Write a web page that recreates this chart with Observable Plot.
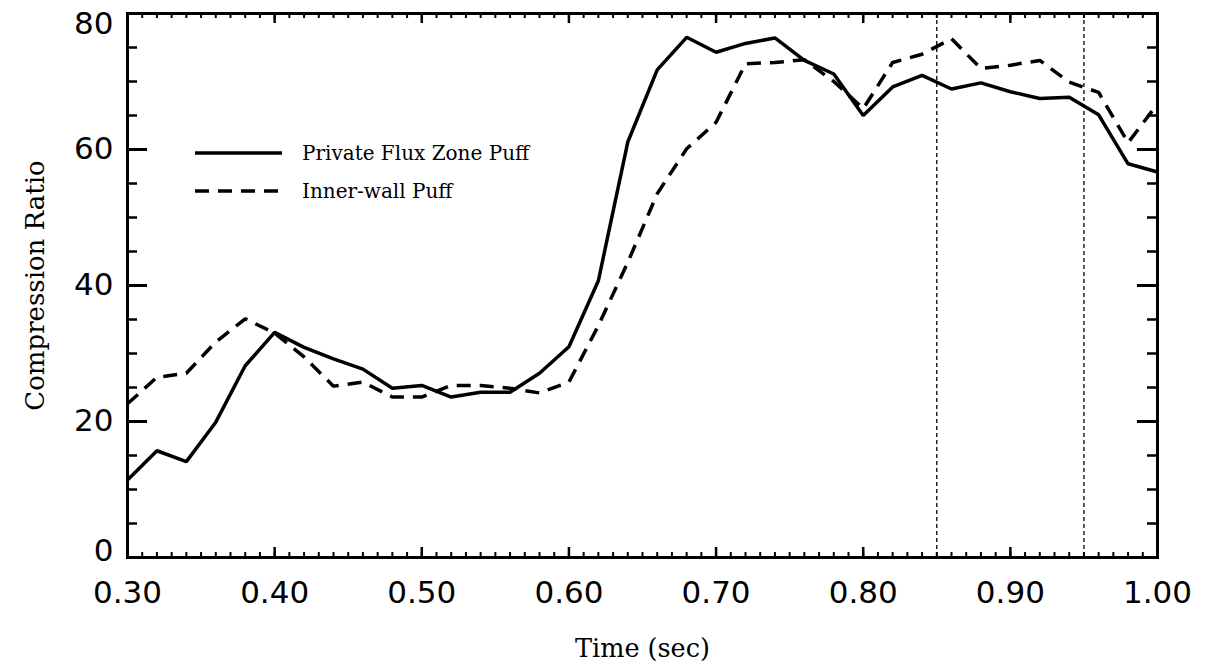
<!DOCTYPE html>
<html><head><meta charset="utf-8">
<script src="https://cdn.jsdelivr.net/npm/d3@7"></script>
<script src="https://cdn.jsdelivr.net/npm/@observablehq/plot@0.6"></script>
<style>
html,body{margin:0;padding:0;background:#fff;}
#wrap{position:relative;width:1207px;height:669px;}
#legend{position:absolute;left:0;top:0;pointer-events:none;}
</style></head><body><div id="wrap"></div>
<script>
// ---- data ----
const times = [0.30,0.32,0.34,0.36,0.38,0.40,0.42,0.44,0.46,0.48,0.50,0.52,0.54,0.56,0.58,0.60,0.62,0.64,0.66,0.68,0.70,0.72,0.74,0.76,0.78,0.80,0.82,0.84,0.86,0.88,0.90,0.92,0.94,0.96,0.98,1.00];
const privateFlux = [11.4,15.7,14.1,19.9,28.2,33.1,30.9,29.2,27.7,24.9,25.3,23.6,24.3,24.3,27.1,31.0,40.7,61.1,71.7,76.5,74.3,75.6,76.4,73.1,71.1,65.0,69.2,70.9,68.9,69.8,68.5,67.5,67.7,65.1,57.9,56.7];
const innerWall = [22.6,26.5,27.1,31.7,35.1,33.0,29.5,25.2,25.8,23.6,23.6,25.3,25.3,24.9,24.2,25.8,34.1,43.4,53.5,60.1,64.0,72.6,72.8,73.2,70.0,66.0,72.8,74.0,76.3,71.9,72.4,73.1,69.9,68.4,61.0,66.7];
const seriesNames = ["Private Flux Zone Puff","Inner-wall Puff"];
const markerTimes = [0.85,0.95];
const xTicks = [0.30,0.40,0.50,0.60,0.70,0.80,0.90,1.00];
const yTicks = [0,20,40,60,80];
const yTicksMid = [20,40,60];
const xMinor = d3.range(30,101).map(d=>d/100);
const yMinor = d3.range(0,81,5);
const xLabel = "Time (sec)";
const yLabel = "Compression Ratio";

// ---- layout ----
const W=1207,H=669,mL=127,mT=13,mR=50,mB=112;
const fw=W-mL-mR, fh=H-mT-mB;
const sans="DejaVu Sans", serif="DejaVu Serif";
const dash="14,9";
const tickFont=31;

const plot = Plot.plot({
  width:W,height:H,marginLeft:mL,marginTop:mT,marginRight:mR,marginBottom:mB,
  style:{background:"#fff",color:"#000"},
  x:{domain:[0.30,1.00]},
  y:{domain:[0,80]},
  marks:[
    Plot.ruleX(markerTimes,{stroke:"#000",strokeWidth:1.3,strokeDasharray:"4,3"}),
    Plot.line(innerWall,{x:times,y:d=>d,stroke:"#000",strokeWidth:3.5,strokeDasharray:dash,strokeLinejoin:"miter",strokeLinecap:"butt"}),
    Plot.line(privateFlux,{x:times,y:d=>d,stroke:"#000",strokeWidth:3.5,strokeLinejoin:"miter",strokeLinecap:"butt"}),
    // x ticks (inward, bottom & top)
    Plot.ruleX(xMinor,{stroke:"#000",strokeWidth:2,insetTop:fh-5}),
    Plot.ruleX(xMinor,{stroke:"#000",strokeWidth:2,insetBottom:fh-5}),
    Plot.ruleX(xTicks,{stroke:"#000",strokeWidth:2.5,insetTop:fh-10}),
    Plot.ruleX(xTicks,{stroke:"#000",strokeWidth:2.5,insetBottom:fh-10}),
    // y ticks (inward, left & right)
    Plot.ruleY(yMinor,{stroke:"#000",strokeWidth:2.5,insetRight:fw-10}),
    Plot.ruleY(yMinor,{stroke:"#000",strokeWidth:2.5,insetLeft:fw-10}),
    Plot.ruleY(yTicks,{stroke:"#000",strokeWidth:3,insetRight:fw-20}),
    Plot.ruleY(yTicks,{stroke:"#000",strokeWidth:3,insetLeft:fw-20}),
    Plot.frame({stroke:"#000",strokeWidth:3}),
    Plot.axisX(xTicks,{tickSize:0,tickPadding:23,tickFormat:d3.format(".2f"),fontSize:tickFont,fontFamily:sans,label:null}),
    Plot.axisY(yTicksMid,{tickSize:0,tickPadding:14,fontSize:tickFont,fontFamily:sans,label:null}),
    Plot.axisY([yTicks[4]],{tickSize:0,tickPadding:14,fontSize:tickFont,fontFamily:sans,label:null,dy:11}),
    Plot.axisY([yTicks[0]],{tickSize:0,tickPadding:14,fontSize:tickFont,fontFamily:sans,label:null,dy:-6}),
    Plot.text([yLabel],{frameAnchor:"left",dx:-92,rotate:-90,textAnchor:"middle",fontSize:26,fontFamily:serif,fill:"#000"}),
    Plot.text([xLabel],{frameAnchor:"bottom",dy:91,textAnchor:"middle",lineAnchor:"middle",fontSize:25.5,fontFamily:serif,fill:"#000"})
  ]
});
const wrap=document.getElementById("wrap");
wrap.appendChild(plot);

// legend overlay
const ns="http://www.w3.org/2000/svg";
const lg=document.createElementNS(ns,"svg");
lg.setAttribute("id","legend");lg.setAttribute("width",W);lg.setAttribute("height",H);
const rows=[{y:153,dash:null},{y:191,dash:dash}];
rows.forEach((r,i)=>{
  const l=document.createElementNS(ns,"line");
  l.setAttribute("x1",195);l.setAttribute("x2",282);l.setAttribute("y1",r.y);l.setAttribute("y2",r.y);
  l.setAttribute("stroke","#000");l.setAttribute("stroke-width",3.5);
  if(r.dash) l.setAttribute("stroke-dasharray",r.dash);
  lg.appendChild(l);
  const t=document.createElementNS(ns,"text");
  t.setAttribute("x",302);t.setAttribute("y",r.y);t.setAttribute("dy","0.35em");
  t.setAttribute("font-family",serif);t.setAttribute("font-size",20);t.setAttribute("fill","#000");
  t.textContent=seriesNames[i];
  lg.appendChild(t);
});
wrap.appendChild(lg);
</script></body></html>
